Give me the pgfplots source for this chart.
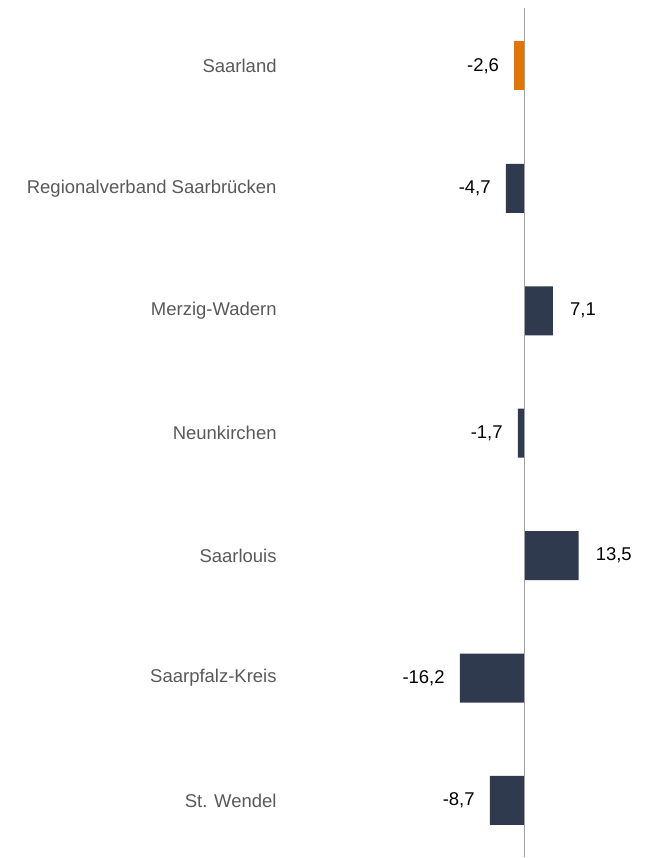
\documentclass[border=0pt]{standalone}
\usepackage{pgfplots}
\pgfplotsset{compat=1.18}
\usepackage{fontspec}
\setmainfont{Liberation Sans}
\definecolor{navy}{RGB}{48,58,79}
\definecolor{orng}{RGB}{227,116,0}
\definecolor{lblgray}{RGB}{89,89,89}
\definecolor{axgray}{RGB}{160,160,160}
\begin{document}
\begin{tikzpicture}[font=\fontsize{18.5}{22}\selectfont,
  lbl/.style={anchor=east, text=lblgray, inner sep=0pt}]
\begin{axis}[
  scale only axis,
  width=652pt, height=858pt,
  xmin=-131.25, xmax=31.75,
  ymin=-0.465, ymax=6.539,
  axis lines=none,
  xtick=\empty, ytick=\empty,
  /pgf/number format/assume math mode=true,
  /pgf/number format/.cd, use comma, fixed, fixed zerofill, precision=1,
  /pgfplots/.cd,
  clip=false,
  barstyle/.style={xbar, bar width=49pt, bar shift=0pt, draw=none, nodes near coords,
    nodes near coords style={font=\fontsize{18.5}{22}\selectfont, text=black, inner sep=0pt}},
]
% Saarland
\addplot[barstyle, fill=orng, nodes near coords style={anchor=east, xshift=-15pt}]
  coordinates {(-2.6,6)};
% negative districts
\addplot[barstyle, fill=navy, nodes near coords style={anchor=east, xshift=-15pt}]
  coordinates {(-4.7,5) (-1.7,3) (-16.2,1) (-8.7,0)};
% positive districts
\addplot[barstyle, fill=navy, nodes near coords style={anchor=west, xshift=17pt}]
  coordinates {(7.1,4) (13.5,2)};
% zero line
\addplot[draw=axgray, line width=1.3pt, mark=none, forget plot]
  coordinates {(0,-0.465) (0,6.474)};
\path (rel axis cs:0,0) rectangle (rel axis cs:1,1);
\node[lbl] at (axis cs:-62,6) {Saarland};
\node[lbl] at (axis cs:-62,5) {Regionalverband Saarbrücken};
\node[lbl] at (axis cs:-62,4) {Merzig-Wadern};
\node[lbl] at (axis cs:-62,3) {Neunkirchen};
\node[lbl] at (axis cs:-62,2) {Saarlouis};
\node[lbl] at (axis cs:-62,1) {Saarpfalz-Kreis};
\node[lbl] at (axis cs:-62,0) {St. Wendel};
\end{axis}
\end{tikzpicture}
\end{document}
